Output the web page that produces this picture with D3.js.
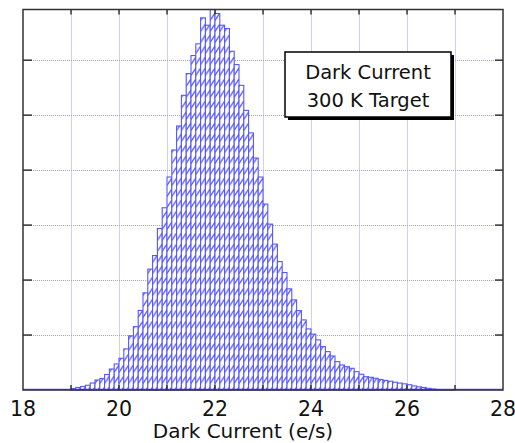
<!DOCTYPE html>
<html>
<head>
<meta charset="utf-8">
<script src="https://cdn.jsdelivr.net/npm/d3@7"></script>
<style>
  body { margin: 0; background: #fff; }
  text { font-family: "DejaVu Sans", sans-serif; }
</style>
</head>
<body>
<div id="chart"></div>
<script>
/* histogram data: bins of 0.1 e/s starting at 19.0 */
const binStart = 19.0
const binWidth = 0.1
const counts = [
    27, 46, 64, 86, 127, 182, 209, 282, 382, 474,            // 19.0 - 19.9
    577, 747, 984, 1153, 1448, 1767, 2199, 2446, 2938, 3315, // 20.0 - 20.9
    3874, 4366, 4803, 5361, 5756, 6084, 6297, 6770, 6636, 6922, // 21.0 - 21.9
    6849, 6636, 6576, 6162, 5920, 5543, 5087, 4676, 4220, 3874, // 22.0 - 22.9
    3383, 3018, 2654, 2337, 2137, 1840, 1639, 1444, 1275, 1111, // 23.0 - 23.9
    1015, 911, 789, 698, 619, 515, 455, 424, 395, 333,       // 24.0 - 24.9
    286, 242, 231, 213, 191, 175, 160, 142, 126, 112,        // 25.0 - 25.9
    96, 74, 58, 46, 30, 18, 9, 7, 6, 5                        // 26.0 - 26.9
]
const xGrid = [19, 20, 21, 22, 23, 24, 25, 26, 27]
const xLabels = [18, 20, 22, 24, 26, 28]
const yTicks = [1000, 2000, 3000, 4000, 5000, 6000]
const legendLines = ['Dark Current', '300 K Target']
const xTitle = 'Dark Current (e/s)'

const width = 515
const height = 443
const margin = { left: 23, right: 12, top: 9.5, bottom: 53 }
const blue = '#5656ff'

const svg = d3.select('#chart')
    .append('svg')
    .attr('width', width)
    .attr('height', height)

const x = d3.scaleLinear()
    .domain([18, 28])
    .range([margin.left, width - margin.right])
const y = d3.scaleLinear()
    .domain([0, d3.max(counts)])
    .range([height - margin.bottom, margin.top])

const bw = x(binWidth) - x(0)

// hatch pattern for the bars
const defs = svg.append('defs')
const pat = defs.append('pattern')
    .attr('id', 'hatch')
    .attr('patternUnits', 'userSpaceOnUse')
    .attr('x', x(binStart))
    .attr('y', 0)
    .attr('width', bw)
    .attr('height', 11)
pat.append('rect')
    .attr('width', bw)
    .attr('height', 11)
    .attr('fill', '#fff')
pat.append('path')
    .attr('d', `M0,9.5 L${bw},2`)
    .attr('stroke', blue)
    .attr('stroke-width', 1.3)

// dotted grid
const grid = svg.append('g')
    .attr('stroke', '#9d9dff')
    .attr('stroke-width', 1)
    .attr('stroke-dasharray', '1,1')
grid.selectAll('.gx')
    .data(xGrid)
    .join('line')
    .attr('x1', d => Math.round(x(d)) + 0.5)
    .attr('x2', d => Math.round(x(d)) + 0.5)
    .attr('y1', y.range()[1])
    .attr('y2', y.range()[0])
grid.selectAll('.gy')
    .data(yTicks)
    .join('line')
    .attr('x1', x.range()[0])
    .attr('x2', x.range()[1])
    .attr('y1', d => Math.round(y(d)) + 0.5)
    .attr('y2', d => Math.round(y(d)) + 0.5)

// bars
svg.append('g')
    .selectAll('rect')
    .data(counts)
    .join('rect')
    .attr('x', (d, i) => x(binStart + i * binWidth))
    .attr('y', d => y(d))
    .attr('width', bw)
    .attr('height', d => y(0) - y(d))
    .attr('fill', 'url(#hatch)')
    .attr('stroke', blue)
    .attr('stroke-width', 1.1)

// zero line along the bottom
svg.append('line')
    .attr('x1', x(18))
    .attr('x2', x(28))
    .attr('y1', y(0) - 0.5)
    .attr('y2', y(0) - 0.5)
    .attr('stroke', blue)
    .attr('stroke-width', 1.5)

// frame
svg.append('rect')
    .attr('x', x.range()[0])
    .attr('y', y.range()[1])
    .attr('width', x.range()[1] - x.range()[0])
    .attr('height', y.range()[0] - y.range()[1])
    .attr('fill', 'none')
    .attr('stroke', '#333')
    .attr('stroke-width', 1.5)

// inward ticks
const ticks = svg.append('g').attr('stroke', '#333').attr('stroke-width', 1.5)
xGrid.forEach(d => {
    ticks.append('line')
        .attr('x1', x(d)).attr('x2', x(d))
        .attr('y1', y.range()[1]).attr('y2', y.range()[1] + 5)
    ticks.append('line')
        .attr('x1', x(d)).attr('x2', x(d))
        .attr('y1', y.range()[0]).attr('y2', y.range()[0] - 5)
})
yTicks.forEach(d => {
    ticks.append('line')
        .attr('x1', x.range()[0]).attr('x2', x.range()[0] + 9)
        .attr('y1', y(d)).attr('y2', y(d))
    ticks.append('line')
        .attr('x1', x.range()[1]).attr('x2', x.range()[1] - 8)
        .attr('y1', y(d)).attr('y2', y(d))
})

// tick labels
svg.append('g')
    .selectAll('text')
    .data(xLabels)
    .join('text')
    .attr('x', d => x(d))
    .attr('y', 416)
    .attr('text-anchor', 'middle')
    .attr('font-size', 20.5)
    .attr('fill', '#111')
    .text(d => d)

// axis title
svg.append('text')
    .attr('x', 243)
    .attr('y', 438)
    .attr('text-anchor', 'middle')
    .attr('font-size', 20)
    .attr('fill', '#111')
    .text(xTitle)

// legend box with shadow
const lg = { x: 285, y: 52, w: 166, h: 65 }
svg.append('rect')
    .attr('x', lg.x + 3).attr('y', lg.y + 3)
    .attr('width', lg.w).attr('height', lg.h)
    .attr('fill', '#000')
svg.append('rect')
    .attr('x', lg.x).attr('y', lg.y)
    .attr('width', lg.w).attr('height', lg.h)
    .attr('fill', '#fff')
    .attr('stroke', '#000')
    .attr('stroke-width', 1.5)
svg.append('g')
    .selectAll('text')
    .data(legendLines)
    .join('text')
    .attr('x', lg.x + lg.w / 2)
    .attr('y', (d, i) => 79 + i * 27.5)
    .attr('text-anchor', 'middle')
    .attr('font-size', 19.5)
    .attr('fill', '#111')
    .text(d => d)
</script>
</body>
</html>
